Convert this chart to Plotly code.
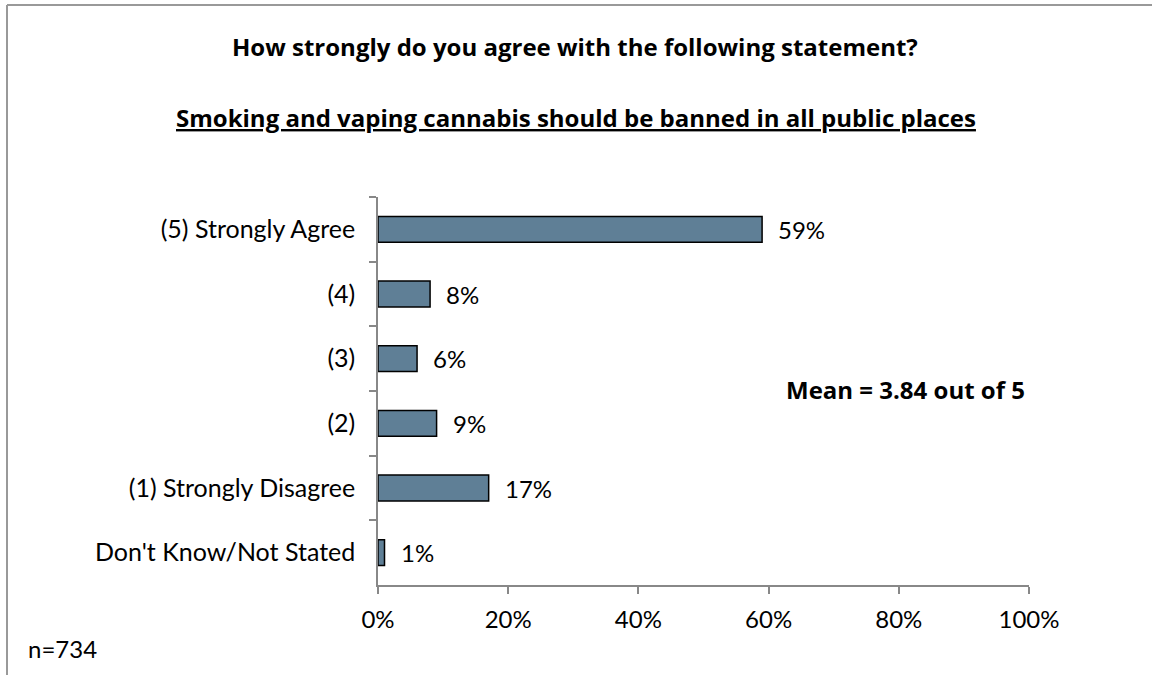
import plotly.graph_objects as go

categories = ["(5) Strongly Agree", "(4)", "(3)", "(2)", "(1) Strongly Disagree", "Don't Know/Not Stated"]
values = [59, 8, 6, 9, 17, 1]
x_ticks = [0, 20, 40, 60, 80, 100]
x_tick_labels = ["0%", "20%", "40%", "60%", "80%", "100%"]

W, H = 1152, 675
FONT = "Lato, 'Open Sans', sans-serif"
BFONT = "'Open Sans', Lato, sans-serif"

def px(x):
    return x / W

def py(y):
    return 1 - y / H

fig = go.Figure()
fig.add_trace(go.Bar(
    x=values, y=categories, orientation="h",
    marker=dict(color="#5F7F96", line=dict(color="#000000", width=1.5)),
    hoverinfo="x+y",
))

for v, c in zip(values, categories):
    fig.add_annotation(x=v, y=c, xref="x", yref="y", text=f"{v}%", showarrow=False,
                       xanchor="left", yanchor="middle", xshift=14,
                       font=dict(size=24, color="#000000", family=FONT))

fig.update_layout(
    width=W, height=H,
    margin=dict(l=0, r=0, t=0, b=0, autoexpand=False),
    paper_bgcolor="white", plot_bgcolor="white",
    showlegend=False,
    bargap=0.6,
    font=dict(family=FONT, size=24, color="#000000"),
    xaxis=dict(
        domain=[px(378), px(1029)], range=[0, 100],
        tickvals=x_ticks, ticktext=x_tick_labels,
        ticks="outside", ticklen=7, tickcolor="#888888", tickwidth=1.5,
        showline=True, linecolor="#888888", linewidth=1.5,
        showgrid=False, zeroline=False, automargin=False,
        tickfont=dict(size=24, color="#000000"),
        ticklabelstandoff=5,
    ),
    yaxis=dict(
        domain=[py(585), py(197)],
        type="category", categoryorder="array", categoryarray=categories,
        autorange="reversed",
        tickson="boundaries",
        ticks="outside", ticklen=7, tickcolor="#888888", tickwidth=1.5,
        showline=True, linecolor="#888888", linewidth=1.5,
        showgrid=False, zeroline=False, automargin=False,
        tickfont=dict(size=25, color="#000000"),
        ticklabelstandoff=16,
    ),
)

fig.add_annotation(text="<b>How strongly do you agree with the following statement?</b>",
                   x=px(575), y=py(46), xref="paper", yref="paper", showarrow=False,
                   font=dict(size=24, color="#000000", family=BFONT), xanchor="center", yanchor="middle")
fig.add_annotation(text="<b><u>Smoking and vaping cannabis should be banned in all public places</u></b>",
                   x=px(576), y=py(117), xref="paper", yref="paper", showarrow=False,
                   font=dict(size=24, color="#000000", family=BFONT), xanchor="center", yanchor="middle")
fig.add_annotation(text="<b>Mean = 3.84 out of 5</b>",
                   x=px(905), y=py(390), xref="paper", yref="paper", showarrow=False,
                   font=dict(size=24, color="#000000", family=BFONT), xanchor="center", yanchor="middle")
fig.add_annotation(text="n=734",
                   x=px(26), y=py(648), xref="paper", yref="paper", showarrow=False,
                   font=dict(size=24, color="#000000"), xanchor="left", yanchor="middle")

# Chart border (top and left)
fig.add_shape(type="line", xref="paper", yref="paper", x0=px(7), x1=1, y0=py(5), y1=py(5),
              line=dict(color="#999999", width=2))
fig.add_shape(type="line", xref="paper", yref="paper", x0=px(7), x1=px(7), y0=py(5), y1=0,
              line=dict(color="#999999", width=2))

fig.write_html("out.html")
